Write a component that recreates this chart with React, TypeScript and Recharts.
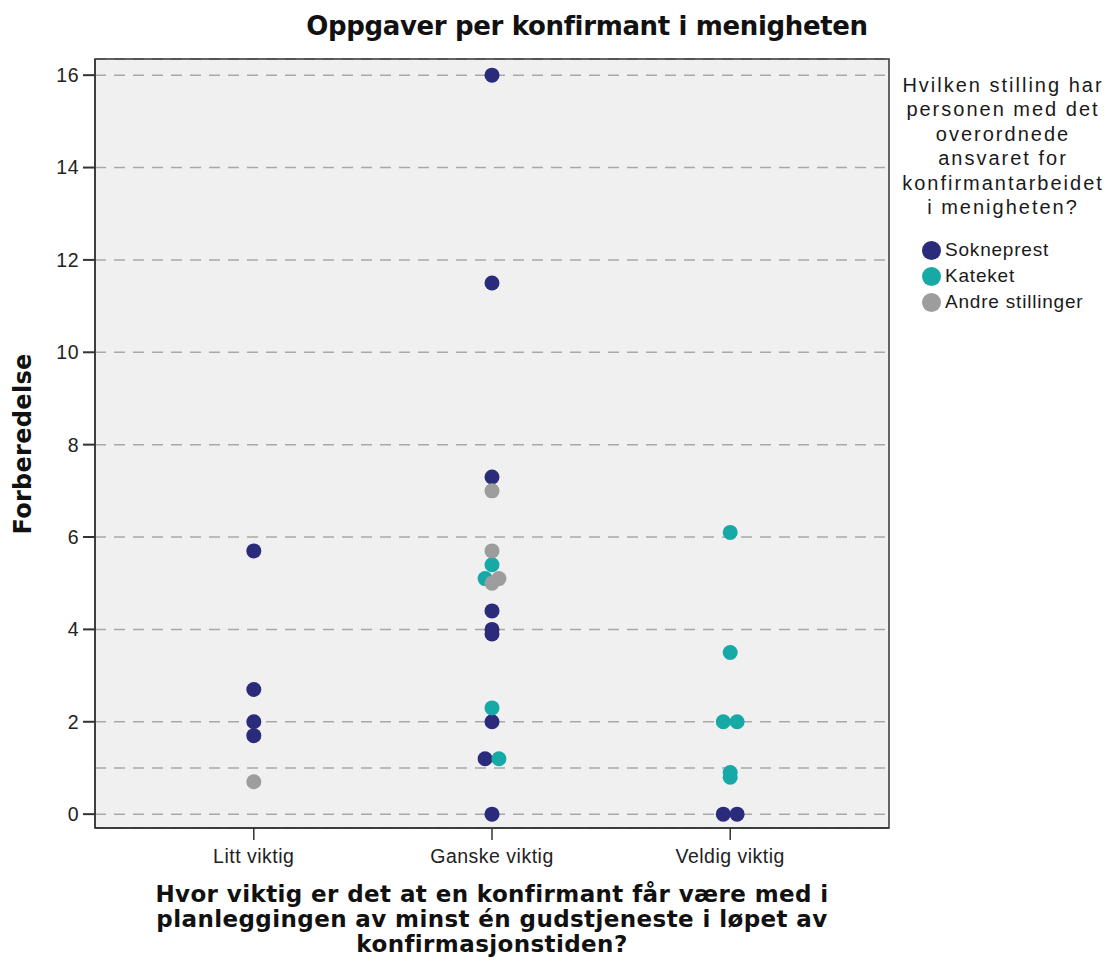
import React from "react";
import {
  ScatterChart, Scatter, XAxis, YAxis, CartesianGrid,
  ReferenceLine, ReferenceArea,
} from "recharts";

// categories on the x axis
const categories = ["Litt viktig", "Ganske viktig", "Veldig viktig"];
const yTicks = [0, 2, 4, 6, 8, 10, 12, 14, 16];

// Forberedelse values per category, one list per series
const sokneprest = [
  [5.7, 2.7, 2.0, 1.7],
  [16, 11.5, 7.3, 4.4, 4.0, 3.9, 2.0, 1.2, 0],
  [0, 0],
];
const kateket = [
  [],
  [5.4, 5.1, 2.3, 1.2],
  [6.1, 3.5, 2.0, 2.0, 0.9, 0.8],
];
const andre = [
  [0.7],
  [7.0, 5.7, 5.1, 5.0],
  [],
];

const seriesNames = ["Sokneprest", "Kateket", "Andre stillinger"];
const seriesValues = [sokneprest, kateket, andre];
const colors = ["#2B2B7C", "#17A9A6", "#9D9D9D"];

const legendTitle = [
  "Hvilken stilling har",
  "personen med det",
  "overordnede",
  "ansvaret for",
  "konfirmantarbeidet",
  "i menigheten?",
];
const xTitle = [
  "Hvor viktig er det at en konfirmant får være med i",
  "planleggingen av minst én gudstjeneste i løpet av",
  "konfirmasjonstiden?",
];

// dots with identical values in one category are placed side by side
const SPREAD = 0.058;

function buildSeries() {
  const out: { x: number; y: number }[][] = seriesValues.map(() => []);
  categories.forEach((_, c) => {
    const groups = new Map<number, number[]>();
    seriesValues.forEach((vals, s) => {
      vals[c].forEach((v) => {
        if (!groups.has(v)) groups.set(v, []);
        groups.get(v)!.push(s);
      });
    });
    groups.forEach((members, v) => {
      const n = members.length;
      members.forEach((s, i) => {
        out[s].push({ x: c + 1 + (i - (n - 1) / 2) * SPREAD, y: v });
      });
    });
  });
  return out;
}

const points = buildSeries();

const sans = "'Liberation Sans', Arial, sans-serif";
const bold = "'DejaVu Sans', Verdana, sans-serif";

const W = 1095;
const H = 963;

export default function App() {
  const tickStyle = { fontSize: 19.5, fill: "#222", fontFamily: sans, letterSpacing: 0.5 };
  return (
    <div style={{ position: "relative", width: W, height: H, fontFamily: sans, color: "#111" }}>
      <ScatterChart
        width={W}
        height={H}
        margin={{ top: 51, right: 214, left: 27, bottom: 83 }}
      >
        <CartesianGrid
          vertical={false}
          fill="#F0F0F0"
          stroke="#A8A8A8"
          strokeWidth={1.5}
          strokeDasharray="11 8"
        />
        <XAxis
          type="number"
          dataKey="x"
          domain={[1 / 3, 11 / 3]}
          ticks={[1, 2, 3]}
          allowDataOverflow
          tickFormatter={(v: number) => categories[Math.round(v) - 1]}
          height={60}
          tickSize={12}
          tickMargin={9}
          tick={tickStyle}
          stroke="#333"
          axisLine={{ stroke: "#333", strokeWidth: 1.5 }}
          tickLine={{ stroke: "#333", strokeWidth: 1.5 }}
        />
        <YAxis
          type="number"
          dataKey="y"
          domain={[-0.3, 16.35]}
          ticks={yTicks}
          allowDataOverflow
          width={60}
          tickSize={12}
          tickMargin={4}
          tick={tickStyle}
          axisLine={{ stroke: "#333", strokeWidth: 1.5 }}
          tickLine={{ stroke: "#333", strokeWidth: 2 }}
        />
        <ReferenceLine y={1} stroke="#A8A8A8" strokeWidth={1.5} strokeDasharray="11 8" />
        <ReferenceArea
          x1={1 / 3}
          x2={11 / 3}
          y1={-0.3}
          y2={16.35}
          fill="none"
          stroke="#333"
          strokeWidth={1.5}
          ifOverflow="visible"
        />
        {points.map((data, s) => (
          <Scatter
            key={seriesNames[s]}
            name={seriesNames[s]}
            data={data}
            fill={colors[s]}
            isAnimationActive={false}
            shape={(p: any) => <circle cx={p.cx} cy={p.cy} r={7.5} fill={colors[s]} />}
          />
        ))}
      </ScatterChart>

      <div
        style={{
          position: "absolute", left: 279, width: 600, top: 3, textAlign: "center",
          fontFamily: bold, fontWeight: "bold", fontSize: 26, lineHeight: "30px",
          letterSpacing: -0.35, whiteSpace: "nowrap",
        }}
      >
        Oppgaver per konfirmant i menigheten
      </div>

      <div
        style={{
          position: "absolute", left: -135, top: 421, width: 300, height: 30,
          lineHeight: "30px", textAlign: "center", transform: "rotate(-90deg)",
          fontFamily: bold, fontWeight: "bold", fontSize: 24, letterSpacing: 0.3,
          whiteSpace: "nowrap",
        }}
      >
        Forberedelse
      </div>

      <div
        style={{
          position: "absolute", left: 84, width: 800, top: 874, textAlign: "center",
          fontFamily: bold, fontWeight: "bold", fontSize: 23, lineHeight: "25px",
          letterSpacing: 0.4, whiteSpace: "nowrap",
        }}
      >
        {xTitle.map((t) => (
          <div key={t}>{t}</div>
        ))}
      </div>

      <div
        style={{
          position: "absolute", left: 875, width: 240, top: 65, textAlign: "center",
          fontSize: 20, lineHeight: "24.4px", letterSpacing: 2, color: "#1a1a1a",
          whiteSpace: "nowrap",
        }}
      >
        {legendTitle.map((t) => (
          <div key={t}>{t}</div>
        ))}
      </div>

      {seriesNames.map((name, s) => (
        <div
          key={name}
          style={{
            position: "absolute", left: 914, top: 229 + s * 26, height: 26,
            display: "flex", alignItems: "center", whiteSpace: "nowrap",
            fontSize: 19, letterSpacing: 0.8, color: "#1a1a1a",
          }}
        >
          <span
            style={{
              width: 19, height: 19, borderRadius: "50%", background: colors[s],
              display: "inline-block", marginRight: 4,
            }}
          />
          {name}
        </div>
      ))}
    </div>
  );
}
